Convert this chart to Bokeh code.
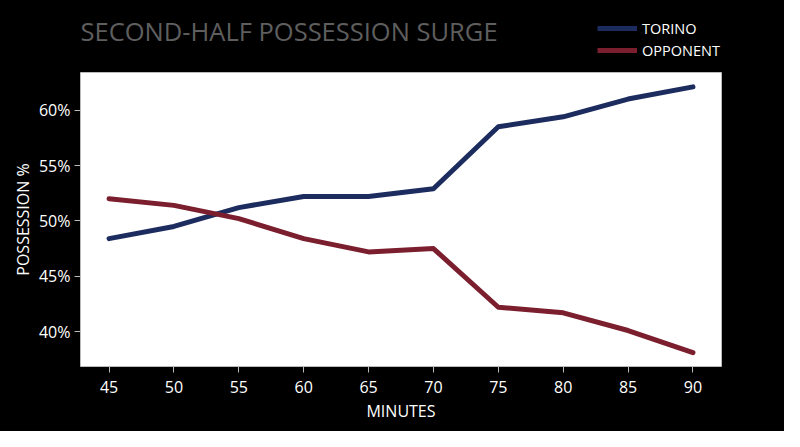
from bokeh.plotting import figure
from bokeh.layouts import column
from bokeh.models import Range1d, Legend, LegendItem, Label, FixedTicker, PrintfTickFormatter
from bokeh.embed import file_html
from bokeh.resources import INLINE

# данные
minutes = [45, 50, 55, 60, 65, 70, 75, 80, 85, 90]
torino = [48.4, 49.5, 51.2, 52.2, 52.2, 52.9, 58.5, 59.4, 61.0, 62.1]
opponent = [52.0, 51.4, 50.2, 48.4, 47.2, 47.5, 42.2, 41.7, 40.1, 38.1]
y_ticks = [40, 45, 50, 55, 60]
series_names = ["TORINO", "OPPONENT"]

navy = "#1c2c5e"
maroon = "#7b1f2f"
font = "Open Sans"
W = 784

# Шапка: заголовок и легенда (рамка выравнивается по рамке основного графика)
# диапазон x шапки вне данных - линии там не видны, нужны только для легенды
head = figure(width=W, height=72, output_backend="svg", toolbar_location=None, tools="",
              x_range=Range1d(1000, 1641), y_range=Range1d(0, 72), x_axis_type=None, y_axis_type=None)
head.min_border = 0
head.background_fill_color = "black"
head.border_fill_color = "black"
head.outline_line_color = None
head.grid.grid_line_color = None

title = Label(x=0, y=42, x_units="screen", y_units="screen", text="SECOND-HALF POSSESSION SURGE",
              text_color="#5e5e5e", text_font=font, text_font_size="25.5px", text_baseline="middle")
head.add_layout(title)

h1 = head.line(minutes, torino, line_color=navy, line_width=5)
h2 = head.line(minutes, opponent, line_color=maroon, line_width=5)
legend = Legend(items=[LegendItem(label=series_names[0], renderers=[h1]),
                       LegendItem(label=series_names[1], renderers=[h2])],
                location=(517, 12), orientation="vertical")
legend.background_fill_alpha = 0
legend.border_line_alpha = 0
legend.label_text_color = "white"
legend.label_text_font = font
legend.label_text_font_size = "14.5px"
legend.glyph_width = 40
legend.label_standoff = 5
legend.spacing = 2
legend.padding = 0
legend.margin = 0
head.add_layout(legend, "center")

# Основной график
p = figure(width=W, height=359, output_backend="svg", toolbar_location=None, tools="",
           x_range=Range1d(42.8, 92.2), y_range=Range1d(36.85, 63.4))
p.min_border_left = 80
p.min_border_right = 63
p.min_border_top = 0
p.min_border_bottom = 65
p.background_fill_color = "white"
p.border_fill_color = "black"
p.outline_line_color = "#bbbbbb"
p.grid.grid_line_color = None

p.line(minutes, torino, line_color=navy, line_width=5, line_cap="round", line_join="round")
p.line(minutes, opponent, line_color=maroon, line_width=5, line_cap="round", line_join="round")

# оси
p.xaxis.ticker = FixedTicker(ticks=minutes)
p.yaxis.ticker = FixedTicker(ticks=y_ticks)
p.yaxis.formatter = PrintfTickFormatter(format="%d%%")
p.xaxis.axis_label = "MINUTES"
p.yaxis.axis_label = "POSSESSION %"
p.axis.axis_line_color = None
p.axis.major_tick_line_color = "#bbbbbb"
p.axis.major_tick_in = 0
p.axis.major_tick_out = 6
p.axis.minor_tick_line_color = None
p.axis.major_label_text_color = "white"
p.axis.major_label_text_font = font
p.axis.major_label_text_font_size = "16px"
p.axis.axis_label_text_color = "white"
p.axis.axis_label_text_font = font
p.axis.axis_label_text_font_size = "16px"
p.axis.axis_label_text_font_style = "normal"
p.xaxis.major_label_standoff = 8
p.yaxis.major_label_standoff = 4
p.xaxis.axis_label_standoff = 4
p.yaxis.axis_label_standoff = 2

layout = column(head, p, spacing=0)
layout.background = "black"

open("out.html", "w").write(file_html(layout, INLINE))
